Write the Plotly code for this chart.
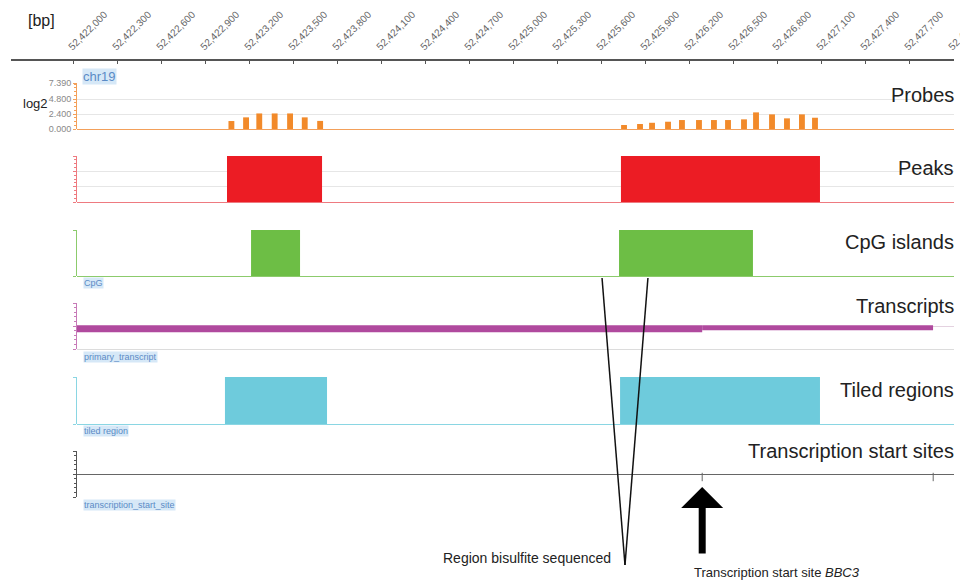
import plotly.graph_objects as go

# ---------------- data ----------------
top_tick_pos = [52422000, 52422300, 52422600, 52422900, 52423200, 52423500, 52423800,
                52424100, 52424400, 52424700, 52425000, 52425300, 52425600, 52425900,
                52426200, 52426500, 52426800, 52427100, 52427400, 52427700, 52428000]
top_tick_labels = ["52,422,000", "52,422,300", "52,422,600", "52,422,900", "52,423,200",
                   "52,423,500", "52,423,800", "52,424,100", "52,424,400", "52,424,700",
                   "52,425,000", "52,425,300", "52,425,600", "52,425,900", "52,426,200",
                   "52,426,500", "52,426,800", "52,427,100", "52,427,400", "52,427,700",
                   "52,428,000"]

probe_pos = [52423080, 52423180, 52423270, 52423375, 52423480, 52423580, 52423685,
             52425757, 52425866, 52425948, 52426057, 52426152, 52426268, 52426370,
             52426466, 52426575, 52426657, 52426766, 52426868, 52426970, 52427059]
probe_log2 = [1.28, 1.87, 2.5, 2.5, 2.5, 1.87, 1.3,
              0.64, 0.8, 1.0, 1.17, 1.44, 1.44, 1.44,
              1.44, 1.55, 2.67, 2.35, 1.71, 2.35, 1.81]
probe_ticks = [0, 2.4, 4.8, 7.39]

peak_start = [52423050, 52425736]
peak_end = [52423698, 52427093]

cpg_start = [52423214, 52425723]
cpg_end = [52423548, 52426636]

transcript_thick = [52421500, 52426290]
transcript_thin = [52426290, 52427864]

tiled_start = [52423036, 52425730]
tiled_end = [52423732, 52427093]

tss_pos = [52426290, 52427865]
bbc3_tss = 52426290

bisulfite_region = [52425607, 52425920]

# ---------------- geometry helpers ----------------
# the page places the figure 8px from the window's top-left corner
OFF = 8
W, H = 968 - OFF, 584 - OFF
PX0, BP0, SCALE = 73, 52422000, 0.146667   # window pixel of BP0, pixels per bp


def bp_at(px):
    return BP0 + (px - PX0) / SCALE


def fy(px):
    return 1 - (px - OFF) / H


def fx(px):
    return (px - OFF) / W


FONT = "Arial, Liberation Sans, sans-serif"
ORANGE = "#F28A2A"
RED = "#EC1C24"
GREEN = "#6DBE45"
MAGENTA = "#B04A9E"
CYAN = "#6ECBDC"
GRID = "#e6e6e6"

fig = go.Figure()

# dummy trace for top axis
fig.add_trace(go.Scatter(x=[top_tick_pos[0], top_tick_pos[-1]], y=[0, 0], mode="markers",
                         marker=dict(opacity=0), hoverinfo="skip", showlegend=False,
                         xaxis="x", yaxis="y"))

# probes
fig.add_trace(go.Bar(x=probe_pos, y=probe_log2, width=40, marker=dict(color=ORANGE, line=dict(width=0)),
                     xaxis="x2", yaxis="y2", showlegend=False))
# peaks
fig.add_trace(go.Bar(y=[1.5] * len(peak_start), base=peak_start,
                     x=[e - s for s, e in zip(peak_start, peak_end)], width=3, orientation="h",
                     marker=dict(color=RED, line=dict(width=0)), xaxis="x2", yaxis="y3", showlegend=False))
# CpG
fig.add_trace(go.Bar(y=[0.5] * len(cpg_start), base=cpg_start,
                     x=[e - s for s, e in zip(cpg_start, cpg_end)], width=1, orientation="h",
                     marker=dict(color=GREEN, line=dict(width=0)), xaxis="x2", yaxis="y4", showlegend=False))
# transcripts
fig.add_trace(go.Bar(y=[0.88], base=[transcript_thick[0]], x=[transcript_thick[1] - transcript_thick[0]],
                     width=0.31, orientation="h", marker=dict(color=MAGENTA, line=dict(width=0)),
                     xaxis="x2", yaxis="y5", showlegend=False))
fig.add_trace(go.Bar(y=[0.92], base=[transcript_thin[0]], x=[transcript_thin[1] - transcript_thin[0]],
                     width=0.22, orientation="h", marker=dict(color=MAGENTA, line=dict(width=0)),
                     xaxis="x2", yaxis="y5", showlegend=False))
# tiled regions
fig.add_trace(go.Bar(y=[0.5] * len(tiled_start), base=tiled_start,
                     x=[e - s for s, e in zip(tiled_start, tiled_end)], width=1, orientation="h",
                     marker=dict(color=CYAN, line=dict(width=0)), xaxis="x2", yaxis="y6", showlegend=False))
# TSS markers
fig.add_trace(go.Scatter(x=tss_pos, y=[-0.13] * len(tss_pos), mode="markers",
                         marker=dict(symbol="line-ns", size=6, line=dict(width=1, color="#666")),
                         xaxis="x2", yaxis="y7", showlegend=False, hoverinfo="skip"))

layout = dict(
    width=W, height=H, margin=dict(l=0, r=0, t=0, b=0),
    paper_bgcolor="white", plot_bgcolor="white", barmode="overlay",
    font=dict(family=FONT, color="#222"),
    xaxis=dict(domain=[fx(11), fx(954)], range=[bp_at(11), bp_at(954)], side="top",
               anchor="free", position=fy(60), tickmode="array", tickvals=top_tick_pos,
               ticktext=top_tick_labels, tickangle=-45, tickfont=dict(size=10, color="#666"),
               ticklabeloverflow="allow", ticklabelshift=-4, ticklabelstandoff=3,
               showline=True, linecolor="#555", linewidth=1.5, ticks="inside", ticklen=3,
               tickcolor="#555", showgrid=False, zeroline=False, automargin=False),
    yaxis=dict(domain=[fy(60), 1], visible=False, anchor="x", automargin=False),
    xaxis2=dict(domain=[fx(77), fx(954)], range=[bp_at(77), bp_at(954)], visible=False,
                anchor="y2", automargin=False, showgrid=False, zeroline=False),
)


def track_axis(top, bottom, rng, color, tickvals, dminor=None, labels=False,
               zerocolor=None):
    ax = dict(domain=[fy(bottom), fy(top)], range=rng, anchor="x2", showline=True,
              linecolor=color, linewidth=1, ticks="outside", ticklen=3, tickcolor=color,
              tickmode="array", tickvals=tickvals, showticklabels=labels, showgrid=True,
              gridcolor=GRID, gridwidth=1, zeroline=True,
              zerolinecolor=zerocolor if zerocolor else color, zerolinewidth=1,
              automargin=False, fixedrange=True)
    if dminor:
        ax["minor"] = dict(ticks="outside", ticklen=2, tickcolor=color, dtick=dminor,
                           tick0=rng[0], showgrid=False)
    return ax


layout["yaxis2"] = track_axis(83, 129, [0, 7.39], "#F3A05A", probe_ticks, dminor=0.6, labels=True,
                              zerocolor="#F3A05A")
layout["yaxis2"].update(tickformat=".3f", tickfont=dict(size=9, color="#888"))
layout["yaxis3"] = track_axis(156, 202, [0, 3], "#EE7A80", [0, 1, 2, 3], dminor=0.25, zerocolor="#EE7A80")
layout["yaxis4"] = track_axis(230, 276, [0, 1], "#8CCB6C", [0, 1])
layout["yaxis5"] = track_axis(303, 349, [0, 2], "#C77BB8", [0, 1, 2], dminor=0.2, zerocolor="#dcdcdc")
layout["yaxis5"]["gridcolor"] = "#e4d2e0"
layout["yaxis6"] = track_axis(377, 424, [0, 1], "#8AD6E3", [0, 1])
layout["yaxis7"] = track_axis(451, 497, [-1, 1], "#555555", [-1, 0, 1], dminor=0.2, zerocolor="#666666")

fig.update_layout(**layout)

annotations = []


def add_text(text, xpx, ypx, size, xanchor="left", color="#222", bg=None, yanchor="middle"):
    a = dict(text=text, x=fx(xpx), y=fy(ypx), xref="paper", yref="paper", showarrow=False,
             xanchor=xanchor, yanchor=yanchor, font=dict(size=size, color=color, family=FONT))
    if bg:
        a.update(bgcolor=bg, borderpad=0)
    annotations.append(a)


add_text("[bp]", 26, 20, 16)
add_text("log2", 21, 104, 13)

LBL_C = "#5B8BC6"
LBL_BG = "#D6E8F7"
add_text("chr19", 82, 77, 13, color=LBL_C, bg=LBL_BG)
add_text("CpG", 83, 283, 9, color=LBL_C, bg=LBL_BG)
add_text("primary_transcript", 83, 357, 9, color=LBL_C, bg=LBL_BG)
add_text("tiled region", 83, 431, 9, color=LBL_C, bg=LBL_BG)
add_text("transcription_start_site", 83, 505, 9, color=LBL_C, bg=LBL_BG)

for txt, yc in [("Probes", 95), ("Peaks", 168), ("CpG islands", 242), ("Transcripts", 306),
                ("Tiled regions", 390), ("Transcription start sites", 451)]:
    add_text(txt, 956, yc, 20, xanchor="right")

add_text("Region bisulfite sequenced", 613, 558, 14, xanchor="right")
add_text("Transcription start site <i>BBC3</i>", 692, 572, 13)

# arrow to BBC3 TSS
annotations.append(dict(x=bbc3_tss, y=fy(487), xref="x2", yref="paper", ax=0, ay=68,
                        axref="pixel", ayref="pixel", text="", showarrow=True, arrowhead=1,
                        arrowsize=1, arrowwidth=7, arrowcolor="black", standoff=0))

fig.update_layout(annotations=annotations)

# bisulfite sequenced region "V"
apex = (bisulfite_region[0] + bisulfite_region[1]) / 2
shapes = []
for b in bisulfite_region:
    shapes.append(dict(type="line", xref="x2", yref="paper", x0=b, y0=fy(278), x1=apex, y1=fy(565),
                       line=dict(color="#111", width=1.5)))
fig.update_layout(shapes=shapes)

fig.write_html("out.html")
